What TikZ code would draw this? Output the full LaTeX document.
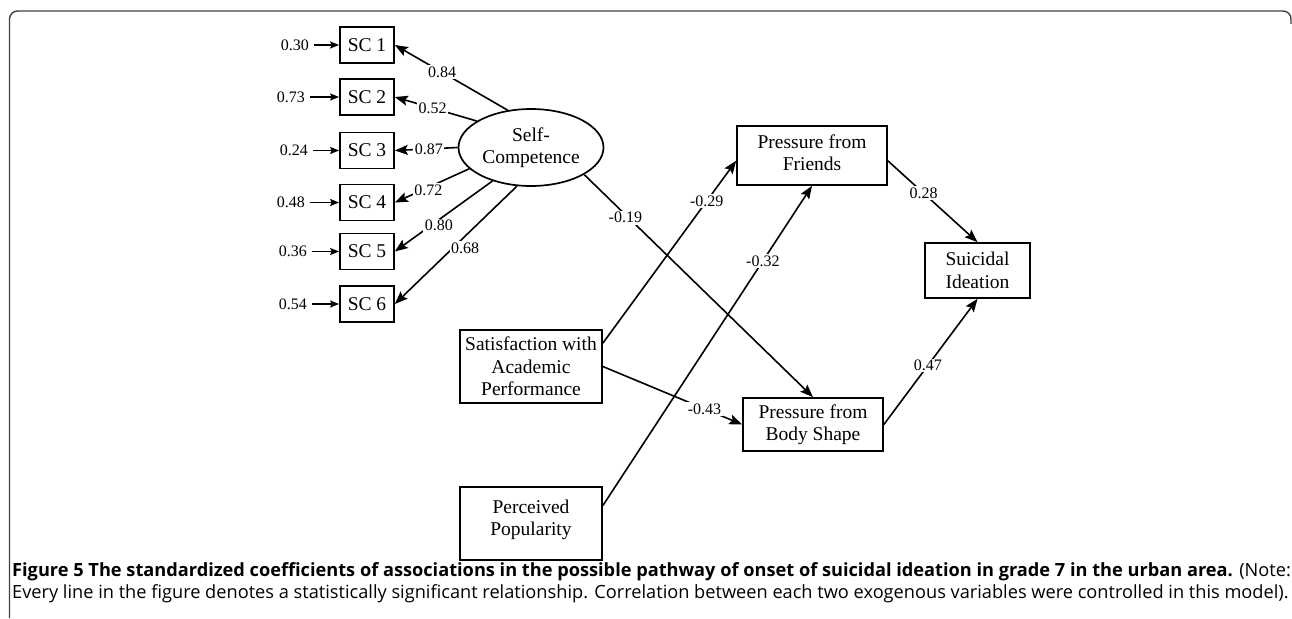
\documentclass[tikz,border=0pt]{standalone}
\usepackage{fontspec}
\setmainfont{Liberation Serif}
\newfontfamily\capfont{Open Sans}
\usetikzlibrary{arrows.meta,shapes.geometric}
\begin{document}
\begin{tikzpicture}[x=1pt,y=-1pt,
  every node/.style={font=\fontsize{19.5}{22.5}\selectfont, inner sep=0pt, align=center},
  box/.style={draw, line width=1.7pt},
  lbl/.style={font=\fontsize{16}{18}\selectfont, fill=white, inner sep=1.5pt},
  err/.style={font=\fontsize{16}{18}\selectfont, anchor=east},
  conn/.style={line width=1.6pt, -{Stealth[length=13pt,width=10pt,inset=2.5pt]}},
  econn/.style={line width=1.6pt, shorten <=5pt, -{Stealth[length=9pt,width=7pt,inset=1.5pt]}},
  capt/.style={anchor=base west, align=left, font=\capfont\fontsize{18.2}{21}\selectfont},
  frame/.style={line width=1.4pt, draw=black!75, rounded corners=8pt}
]
\useasboundingbox (0,0) rectangle (1292,618);
\draw[frame] (9.5,618) -- (9.5,11) -- (1291,11) -- (1291,24);

% indicators
\node[box, minimum width=54pt, minimum height=36pt] (sc1) at (367,45) {SC 1};
\node[box, minimum width=54pt, minimum height=36pt] (sc2) at (367,97) {SC 2};
\node[box, minimum width=54pt, minimum height=36pt] (sc3) at (367,150.5) {SC 3};
\node[box, minimum width=54pt, minimum height=36pt] (sc4) at (367,202.5) {SC 4};
\node[box, minimum width=54pt, minimum height=36pt] (sc5) at (367,251.5) {SC 5};
\node[box, minimum width=54pt, minimum height=36pt] (sc6) at (367,304) {SC 6};

% errors
\node[err] (e1) at (309,45) {0.30};
\node[err] (e2) at (305,97) {0.73};
\node[err] (e3) at (308,150.5) {0.24};
\node[err] (e4) at (305,202.5) {0.48};
\node[err] (e5) at (307,251.5) {0.36};
\node[err] (e6) at (307,304) {0.54};
\foreach \i in {1,...,6} \draw[econn] (e\i.east) -- (sc\i.west);

% latent
\node[ellipse, draw, line width=1.7pt, minimum width=145pt, minimum height=77pt] (se) at (531,147.5) {Self-\\Competence};

\draw[conn] (se.122) -- node[lbl,pos=0.58]{0.84} (sc1.east);
\draw[conn] (se.154) -- node[lbl,pos=0.54]{0.52} (sc2.east);
\draw[conn] (se.180) -- node[lbl,pos=0.46]{0.87} (sc3.east);
\draw[conn] (se.199.4) -- node[lbl,pos=0.55,yshift=-3pt]{0.72} (sc4.east);
\draw[conn] (se.221.4) -- node[lbl,pos=0.55,yshift=-6pt]{0.80} (sc5.east);
\draw[conn] (se.250) -- node[lbl,pos=0.44,yshift=-10pt,xshift=2pt]{0.68} (sc6.east);

% other variables
\node[box, minimum width=150pt, minimum height=59pt] (fr) at (812,155.5) {Pressure from\\Friends\\[-17pt]\mbox{}};
\node[box, minimum width=105pt, minimum height=55pt] (si) at (977.5,270.5) {Suicidal\\Ideation};
\node[box, minimum width=140pt, minimum height=53pt] (bd) at (813,424.5) {Pressure from\\Body Shape};
\node[box, minimum width=142pt, minimum height=73pt] (sat) at (531,366.5) {Satisfaction with\\Academic\\Performance};
\node[box, minimum width=142pt, minimum height=73pt] (pp) at (531,523.5) {Perceived\\Popularity\\[-11pt]\mbox{}};

\draw[conn] (se.333) -- node[lbl,pos=0.18,yshift=-3pt]{-0.19} (bd.north);
\draw[conn] (sat.18) -- node[lbl,pos=0.78]{-0.29} (fr.184);
\draw[conn] (pp.14.6) -- node[lbl,pos=0.765]{-0.32} (fr.south);
\draw[conn] (sat.east) -- node[lbl,pos=0.73]{-0.43} (bd.west);
\draw[conn] (fr.356.6) -- node[lbl,pos=0.4]{0.28} (si.north);
\draw[conn] (bd.east) -- node[lbl,pos=0.47]{0.47} (si.south);

% caption
\node[capt] (cap1) at (12,576) {\textbf{Figure 5 The standardized coefficients of associations in the possible pathway of onset of suicidal ideation in grade 7 in the urban area.} (Note:};
\node[capt] (cap2) at (12,598) {Every line in the figure denotes a statistically significant relationship. Correlation between each two exogenous variables were controlled in this model).};
\end{tikzpicture}
\end{document}
